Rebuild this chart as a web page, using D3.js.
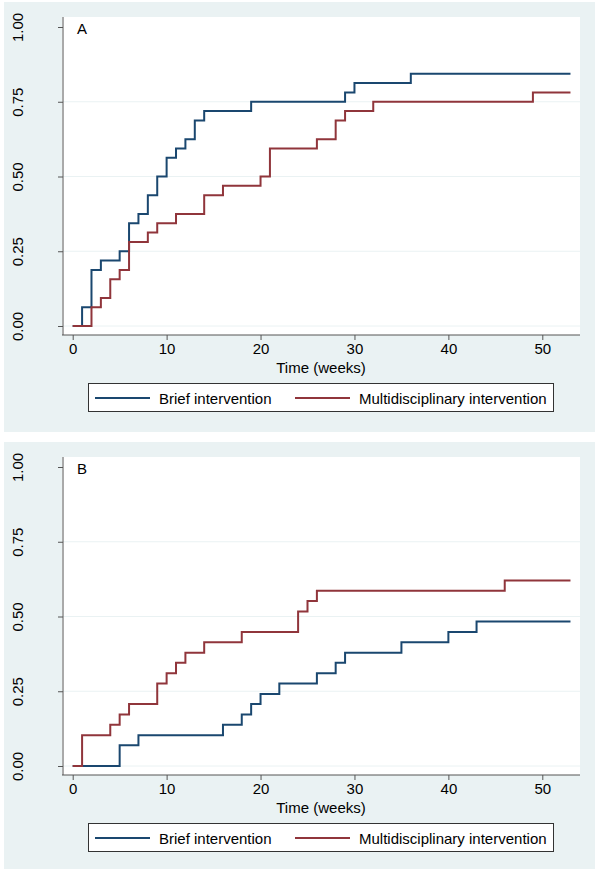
<!DOCTYPE html>
<html>
<head>
<meta charset="utf-8">
<script src="https://cdnjs.cloudflare.com/ajax/libs/d3/7.8.5/d3.min.js"></script>
<style>
  body { margin: 0; background: #fff; }
  text { font-family: "Liberation Sans", Arial, sans-serif; fill: #000; }
</style>
</head>
<body>
<script>
// panel A data (weeks, cumulative proportion)
const weeksA_brief = [0, 1, 2, 3, 5, 6, 7, 8, 9, 10, 11, 12, 13, 14, 19, 29, 30, 36, 53];
const probA_brief  = [0, 0.0625, 0.1875, 0.219, 0.25, 0.344, 0.375, 0.4375, 0.5, 0.5625, 0.594, 0.625, 0.6875, 0.719, 0.75, 0.781, 0.8125, 0.844, 0.844];
const weeksA_multi = [0, 2, 3, 4, 5, 6, 8, 9, 11, 14, 16, 20, 21, 26, 28, 29, 32, 49, 53];
const probA_multi  = [0, 0.0625, 0.094, 0.156, 0.1875, 0.281, 0.3125, 0.344, 0.375, 0.4375, 0.469, 0.5, 0.594, 0.625, 0.6875, 0.719, 0.75, 0.781, 0.781];

// panel B data
const weeksB_brief = [0, 5, 7, 16, 18, 19, 20, 22, 26, 28, 29, 35, 40, 43, 53];
const probB_brief  = [0, 0.069, 0.103, 0.138, 0.172, 0.207, 0.241, 0.276, 0.31, 0.345, 0.379, 0.414, 0.448, 0.483, 0.483];
const weeksB_multi = [0, 1, 4, 5, 6, 9, 10, 11, 12, 14, 18, 24, 25, 26, 46, 53];
const probB_multi  = [0, 0.103, 0.138, 0.172, 0.207, 0.276, 0.31, 0.345, 0.379, 0.414, 0.448, 0.517, 0.552, 0.586, 0.62, 0.62];

const xTicks = [0, 10, 20, 30, 40, 50];
const yTicks = [0, 0.25, 0.5, 0.75, 1];
const seriesNames = ["Brief intervention", "Multidisciplinary intervention"];
const colors = ["#1a476f", "#90353b"];

const W = 600, H = 869;
const svg = d3.select("body").append("svg")
    .attr("width", W)
    .attr("height", H);

const x = d3.scaleLinear().domain([0, 50]).range([72.7, 542.3]);
const y = d3.scaleLinear().domain([0, 1]).range([326, 27]);

function panel(top, label, series) {
  const g = svg.append("g").attr("transform", "translate(0," + top + ")");

  g.append("rect")
    .attr("x", 4).attr("y", 2).attr("width", 591).attr("height", 430)
    .attr("fill", "#eaf2f3");

  g.append("rect")
    .attr("x", 62).attr("y", 17).attr("width", 518).attr("height", 318)
    .attr("fill", "#fff");

  // gridlines
  g.selectAll(".grid")
    .data(yTicks.filter(d => d < 1))
    .enter().append("line")
    .attr("x1", 63).attr("x2", 580)
    .attr("y1", d => y(d)).attr("y2", d => y(d))
    .attr("stroke", "#eaf2f3").attr("stroke-width", 1);

  // y axis
  const yAxis = g.append("g")
    .attr("transform", "translate(63,0)")
    .call(d3.axisLeft(y).tickValues(yTicks).tickSize(5).tickFormat(d3.format(".2f")));
  yAxis.select(".domain").attr("d", "M0,17V335");
  yAxis.selectAll("line, path").attr("stroke", "#555");
  yAxis.selectAll("text")
    .attr("transform", "translate(-51,0) rotate(-90)")
    .attr("x", 0).attr("y", 0).attr("dy", "0.71em")
    .attr("text-anchor", "middle")
    .style("font-size", "15px");

  // x axis
  const xAxis = g.append("g")
    .attr("transform", "translate(0,335)")
    .call(d3.axisBottom(x).tickValues(xTicks).tickSize(5));
  xAxis.select(".domain").attr("d", "M62,0H580");
  xAxis.selectAll("line, path").attr("stroke", "#555");
  xAxis.selectAll("text")
    .attr("y", 8).attr("dy", "0.71em")
    .style("font-size", "15px");

  g.append("text")
    .attr("x", 321).attr("y", 373)
    .attr("text-anchor", "middle")
    .style("font-size", "15px")
    .text("Time (weeks)");

  g.append("text")
    .attr("x", 77).attr("y", 34)
    .style("font-size", "15px")
    .text(label);

  const line = d3.line()
    .x(d => x(d[0]))
    .y(d => y(d[1]))
    .curve(d3.curveStepAfter);

  series.forEach((s, i) => {
    g.append("path")
      .datum(d3.zip(s[0], s[1]))
      .attr("d", line)
      .attr("fill", "none")
      .attr("stroke", colors[i])
      .attr("stroke-width", 2);
  });

  // legend
  g.append("rect")
    .attr("x", 88.5).attr("y", 383.5).attr("width", 465).attr("height", 28)
    .attr("fill", "#fff").attr("stroke", "#333").attr("stroke-width", 1);

  const legX = [[95, 150, 159], [295, 350, 359]];
  seriesNames.forEach((n, i) => {
    g.append("line")
      .attr("x1", legX[i][0]).attr("x2", legX[i][1])
      .attr("y1", 398).attr("y2", 398)
      .attr("stroke", colors[i]).attr("stroke-width", 2);
    g.append("text")
      .attr("x", legX[i][2]).attr("y", 403.5)
      .style("font-size", "15px")
      .text(n);
  });
}

panel(0, "A", [[weeksA_brief, probA_brief], [weeksA_multi, probA_multi]]);
panel(440, "B", [[weeksB_brief, probB_brief], [weeksB_multi, probB_multi]]);
</script>
</body>
</html>
